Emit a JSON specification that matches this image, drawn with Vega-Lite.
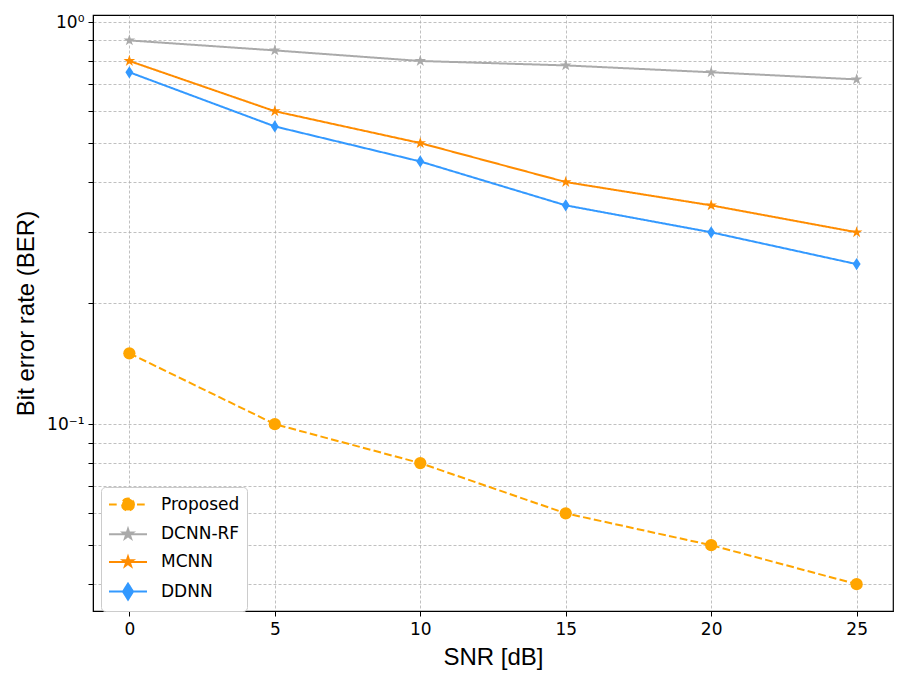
{
  "$schema": "https://vega.github.io/schema/vega-lite/v6.json",
  "autosize": "none",
  "width": 800,
  "height": 596,
  "padding": {"left": 93, "top": 15, "right": 13, "bottom": 68},
  "background": "white",
  "config": {
    "font": "DejaVu Sans",
    "view": {"stroke": "black", "strokeWidth": 1.2},
    "axis": {
      "labelFont": "DejaVu Sans",
      "titleFont": "Liberation Sans",
      "labelFontSize": 17,
      "labelColor": "black",
      "titleFontSize": 24,
      "titleFontWeight": "normal",
      "titleColor": "black",
      "domainColor": "black",
      "tickColor": "black",
      "tickSize": 5,
      "gridColor": "#b0b0b0",
      "gridDash": [3, 2],
      "gridWidth": 0.8
    }
  },
  "resolve": {"legend": {"color": "independent", "shape": "independent", "size": "independent", "strokeDash": "independent"}},
  "data": {
    "values": [
      {"series": "Proposed", "snr": 0, "ber": 0.15},
      {"series": "Proposed", "snr": 5, "ber": 0.1},
      {"series": "Proposed", "snr": 10, "ber": 0.08},
      {"series": "Proposed", "snr": 15, "ber": 0.06},
      {"series": "Proposed", "snr": 20, "ber": 0.05},
      {"series": "Proposed", "snr": 25, "ber": 0.04},
      {"series": "DCNN-RF", "snr": 0, "ber": 0.9},
      {"series": "DCNN-RF", "snr": 5, "ber": 0.85},
      {"series": "DCNN-RF", "snr": 10, "ber": 0.8},
      {"series": "DCNN-RF", "snr": 15, "ber": 0.78},
      {"series": "DCNN-RF", "snr": 20, "ber": 0.75},
      {"series": "DCNN-RF", "snr": 25, "ber": 0.72},
      {"series": "MCNN", "snr": 0, "ber": 0.8},
      {"series": "MCNN", "snr": 5, "ber": 0.6},
      {"series": "MCNN", "snr": 10, "ber": 0.5},
      {"series": "MCNN", "snr": 15, "ber": 0.4},
      {"series": "MCNN", "snr": 20, "ber": 0.35},
      {"series": "MCNN", "snr": 25, "ber": 0.3},
      {"series": "DDNN", "snr": 0, "ber": 0.75},
      {"series": "DDNN", "snr": 5, "ber": 0.55},
      {"series": "DDNN", "snr": 10, "ber": 0.45},
      {"series": "DDNN", "snr": 15, "ber": 0.35},
      {"series": "DDNN", "snr": 20, "ber": 0.3},
      {"series": "DDNN", "snr": 25, "ber": 0.25}
    ]
  },
  "encoding": {
    "x": {
      "field": "snr",
      "type": "quantitative",
      "scale": {"domain": [-1.25, 26.25], "nice": false, "zero": false},
      "axis": {
        "title": "SNR [dB]",
        "values": [0, 5, 10, 15, 20, 25],
        "titlePadding": 8,
        "labelPadding": 5
      }
    },
    "y": {
      "field": "ber",
      "type": "quantitative",
      "scale": {"type": "log", "domain": [0.0343, 1.041], "nice": false},
      "axis": {
        "title": "Bit error rate (BER)",
        "values": [0.04, 0.05, 0.06, 0.07, 0.08, 0.09, 0.1, 0.2, 0.3, 0.4, 0.5, 0.6, 0.7, 0.8, 0.9, 1],
        "labelExpr": "datum.value == 1 ? '10⁰' : (abs(datum.value - 0.1) < 1e-9 ? '10⁻¹' : '')",
        "titlePadding": 8,
        "labelPadding": 4
      }
    }
  },
  "layer": [
    {
      "mark": {"type": "line", "strokeWidth": 2},
      "encoding": {
        "color": {
          "field": "series",
          "type": "nominal",
          "scale": {
            "domain": ["Proposed", "DCNN-RF", "MCNN", "DDNN"],
            "range": ["#FFA500", "#AAAAAA", "#FF8C00", "#3399FF"]
          },
          "legend": {
            "title": null,
            "orient": "none",
            "legendX": 8,
            "legendY": 472,
            "fillColor": "white",
            "strokeColor": "#cccccc",
            "cornerRadius": 4,
            "padding": 7,
            "labelFontSize": 17,
            "labelColor": "black",
            "labelFont": "DejaVu Sans",
            "symbolSize": 361,
            "labelOffset": 32,
            "rowPadding": 8.7,
            "encode": {
              "symbols": {
                "update": {
                  "shape": {"signal": "datum.value === 'Proposed' ? 'M-1,0H0.05M1.95,0H3M1.63,0A0.63,0.63 0 1,1 0.37,0A0.63,0.63 0 1,1 1.63,0Z' : (datum.value === 'DDNN' ? 'M-1,0H3M1,-0.84L1.53,0L1,0.84L0.47,0Z' : 'M-1,0H3M1,-0.55L1.122,-0.169L1.523,-0.17L1.199,0.064L1.323,0.445L1,0.209L0.677,0.445L0.801,0.064L0.477,-0.17L0.878,-0.169Z')"},
                  "fill": {"scale": "color", "field": "value"},
                  "stroke": {"scale": "color", "field": "value"},
                  "strokeWidth": {"value": 2},
                  "strokeDash": {"value": []},
                  "opacity": {"value": 1},
                  "fillOpacity": {"value": 1}
                }
              }
            }
          }
        },
        "strokeDash": {
          "field": "series",
          "type": "nominal",
          "scale": {
            "domain": ["Proposed", "DCNN-RF", "MCNN", "DDNN"],
            "range": [[7.7, 3.3], [1, 0], [1, 0], [1, 0]]
          },
          "legend": null
        }
      }
    },
    {
      "mark": {"type": "point", "filled": true, "opacity": 1, "strokeWidth": 0},
      "encoding": {
        "color": {"field": "series", "type": "nominal", "legend": null},
        "shape": {
          "field": "series",
          "type": "nominal",
          "scale": {
            "domain": ["Proposed", "DCNN-RF", "MCNN", "DDNN"],
            "range": [
              "circle",
              "M0,-1L0.223,-0.307L0.951,-0.309L0.361,0.117L0.588,0.809L0,0.38L-0.588,0.809L-0.361,0.117L-0.951,-0.309L-0.223,-0.307Z",
              "M0,-1L0.223,-0.307L0.951,-0.309L0.361,0.117L0.588,0.809L0,0.38L-0.588,0.809L-0.361,0.117L-0.951,-0.309L-0.223,-0.307Z",
              "M0,-1L0.65,0L0,1L-0.65,0Z"
            ]
          },
          "legend": null
        },
        "size": {
          "field": "series",
          "type": "nominal",
          "scale": {
            "domain": ["Proposed", "DCNN-RF", "MCNN", "DDNN"],
            "range": [150, 150, 150, 300]
          },
          "legend": null
        }
      }
    }
  ]
}
